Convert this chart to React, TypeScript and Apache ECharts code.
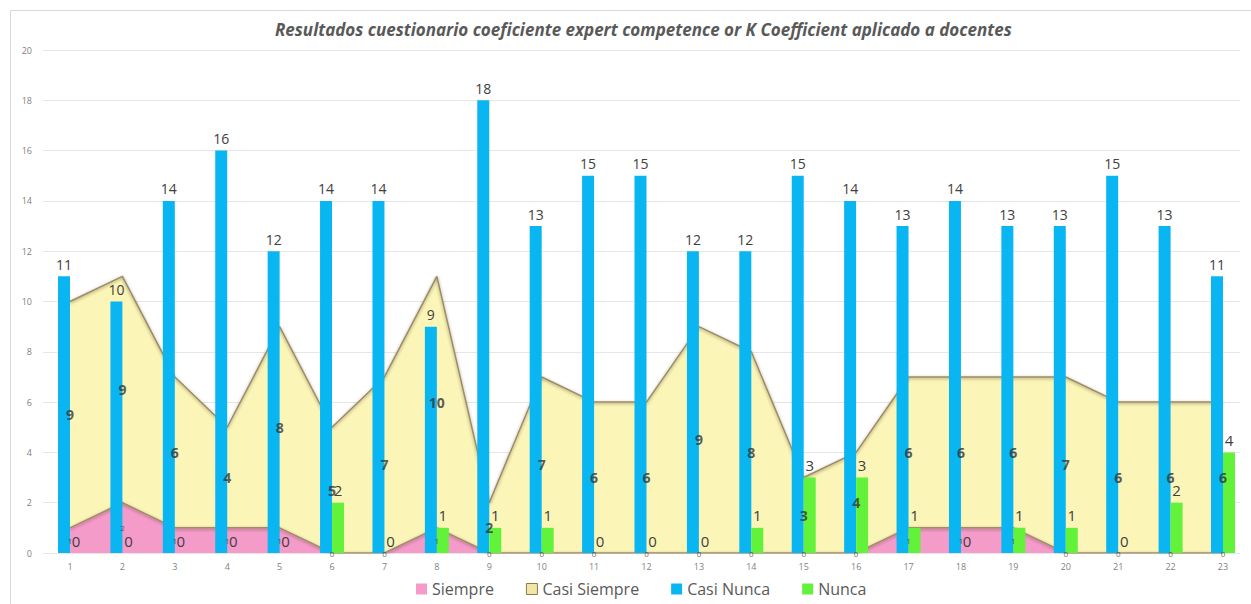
import React, { useEffect, useRef } from "react";
import * as echarts from "echarts";

const categories = ["1","2","3","4","5","6","7","8","9","10","11","12","13","14","15","16","17","18","19","20","21","22","23"];
const siempre = [1,2,1,1,1,0,0,1,0,0,0,0,0,0,0,0,1,1,1,0,0,0,0];
const casiSiempre = [9,9,6,4,8,5,7,10,2,7,6,6,9,8,3,4,6,6,6,7,6,6,6];
const casiNunca = [11,10,14,16,12,14,14,9,18,13,15,15,12,12,15,14,13,14,13,13,15,13,11];
const nunca = [0,0,0,0,0,2,0,1,1,1,0,0,0,1,3,3,1,0,1,1,0,2,4];
const titleText = "Resultados cuestionario coeficiente expert competence or K Coefficient aplicado a docentes";

const FONT = "'Open Sans', 'Noto Sans', sans-serif";

export default function App() {
  const ref = useRef<HTMLDivElement>(null);
  useEffect(() => {
    if (!ref.current) return;
    const chart = echarts.init(ref.current, null, { renderer: "svg" });
    const siempreMid = siempre.map((v, i) => [i, v / 2]);
    const casiMid = casiSiempre.map((v, i) => [i, siempre[i] + v / 2]);
    chart.setOption({
      animation: false,
      backgroundColor: "#ffffff",
      textStyle: { fontFamily: FONT },
      title: {
        text: titleText,
        left: 270,
        top: 16,
        textStyle: { fontFamily: FONT, fontSize: 17, fontWeight: "bold", fontStyle: "italic", color: "#595959" },
      },
      graphic: [
        { type: "rect", shape: { x: 10.5, y: 10.5, width: 1250, height: 600 }, style: { fill: "none", stroke: "#D9D9D9", lineWidth: 1 }, silent: true, z: -10 },
      ],
      legend: {
        bottom: 2,
        left: 411,
        itemWidth: 11,
        itemHeight: 11,
        itemGap: 32,
        textStyle: { fontFamily: FONT, fontSize: 16, color: "#595959" },
        data: [
          { name: "Siempre", icon: "rect" },
          { name: "Casi Siempre", icon: "rect", itemStyle: { color: "#F2E6A6", borderColor: "#8A7A55", borderWidth: 1 } },
          { name: "Casi Nunca", icon: "rect" },
          { name: "Nunca", icon: "rect" },
        ],
      },
      grid: [
        { left: 43, right: 11, top: 50, bottom: 51 },
        { left: 70, right: 28, top: 50, bottom: 51 },
      ],
      xAxis: [
        { type: "category", gridIndex: 0, data: categories, show: false },
        {
          type: "category", gridIndex: 1, data: categories, boundaryGap: false,
          axisLine: { show: false }, axisTick: { show: false },
          axisLabel: { color: "#7F7F7F", fontSize: 9, margin: 9, interval: 0 },
        },
      ],
      yAxis: [
        {
          type: "value", gridIndex: 0, min: 0, max: 20, interval: 2,
          axisLine: { show: false }, axisTick: { show: false },
          axisLabel: { color: "#7F7F7F", fontSize: 9, margin: 11 },
          splitLine: { lineStyle: { color: "#E6E6E6", width: 1 } },
        },
        { type: "value", gridIndex: 1, min: 0, max: 20, interval: 2, show: false, splitLine: { show: false } },
      ],
      series: [
        {
          name: "Siempre", type: "line", xAxisIndex: 1, yAxisIndex: 1, stack: "area",
          data: siempre, symbol: "none", z: 2,
          itemStyle: { color: "#F59BC9" },
          lineStyle: { color: "#A08C6A", width: 1.5, shadowColor: "rgba(60,40,10,0.45)", shadowBlur: 3, shadowOffsetY: 1 },
          areaStyle: { color: "#F59BC9", opacity: 1 },
        },
        {
          name: "Casi Siempre", type: "line", xAxisIndex: 1, yAxisIndex: 1, stack: "area",
          data: casiSiempre, symbol: "none", z: 1,
          itemStyle: { color: "#FBF3B5" },
          lineStyle: { color: "#9C8C66", width: 1.5, shadowColor: "rgba(60,40,10,0.5)", shadowBlur: 3, shadowOffsetY: 1 },
          areaStyle: { color: "#FCF5B8", opacity: 1 },
        },
        {
          name: "Casi Nunca", type: "bar", xAxisIndex: 1, yAxisIndex: 1,
          data: casiNunca, barWidth: 12, barGap: "0%", z: 3,
          itemStyle: { color: "#0AB6F2" },
          label: { show: true, position: "top", distance: 5, color: "#404040", fontSize: 14, fontFamily: FONT },
        },
        {
          name: "Nunca", type: "bar", xAxisIndex: 1, yAxisIndex: 1,
          data: nunca, barWidth: 12, barGap: "0%", z: 3,
          itemStyle: { color: "#62F23A" },
          label: { show: true, position: "top", distance: 5, color: "#404040", fontSize: 15, fontFamily: FONT },
        },
        {
          name: "siempreLabels", type: "scatter", xAxisIndex: 1, yAxisIndex: 1,
          data: siempreMid, symbolSize: 0, silent: true, z: 5,
          label: {
            show: true, position: "inside", color: "#404040", fontSize: 8, fontFamily: FONT,
            formatter: (p: any) => String(siempre[p.dataIndex]),
          },
        },
        {
          name: "casiLabels", type: "scatter", xAxisIndex: 1, yAxisIndex: 1,
          data: casiMid, symbolSize: 0, silent: true, z: 5,
          label: {
            show: true, position: "inside", color: "#333333", fontSize: 14, fontWeight: "bold", fontFamily: FONT,
            formatter: (p: any) => String(casiSiempre[p.dataIndex]),
          },
        },
      ],
    });
    return () => chart.dispose();
  }, []);
  return <div ref={ref} style={{ position: "fixed", left: 0, top: 0, width: 1251, height: 604 }} />;
}
